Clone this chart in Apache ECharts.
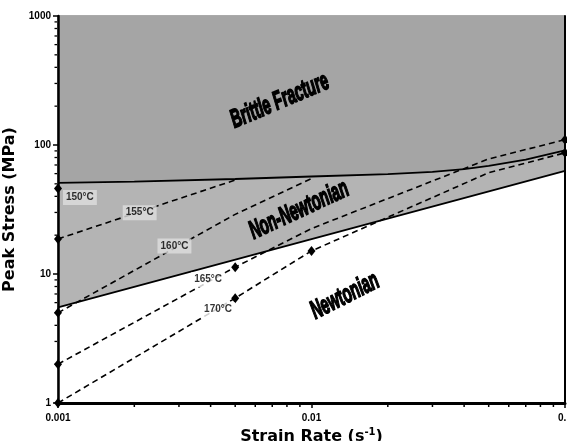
<!DOCTYPE html>
<html><head><meta charset="utf-8">
<script src="https://cdn.jsdelivr.net/npm/echarts@6/dist/echarts.min.js"></script>
<style>html,body{margin:0;padding:0;background:#fff}#c{width:567px;height:441px}</style>
</head><body><div id="c"></div>
<script>
// ---- data ----
const xTickLabels = ['0.001', '0.01', '0.1'];
const yTickLabels = ['1', '10', '100', '1000'];
const xMinorTicks = [0.002,0.003,0.004,0.005,0.006,0.007,0.008,0.009,0.02,0.03,0.04,0.05,0.06,0.07,0.08,0.09];
const yMinorTicks = [2,3,4,5,6,7,8,9,20,30,40,50,60,70,80,90,200,300,400,500,600,700,800,900];

// boundary between Brittle Fracture and Non-Newtonian
const brittleRate   = [0.001, 0.002, 0.005, 0.01, 0.02, 0.03, 0.04, 0.05, 0.07, 0.1];
const brittleStress = [50.8, 52, 54.5, 57, 59.5, 62, 65, 69, 77, 91];
// boundary between Non-Newtonian and Newtonian
const newtRate   = [0.001, 0.01, 0.1];
const newtStress = [5.5, 18.6, 63];

// temperature curves
const tempNames = ['150°C', '155°C', '160°C', '165°C', '170°C'];
const rate150 = [0.001];                 const stress150 = [46];    const mark150 = [1];
const rate155 = [0.001, 0.005];          const stress155 = [18.7, 53.5]; const mark155 = [1, 0];
const rate160 = [0.001, 0.005, 0.01];    const stress160 = [5.0, 29, 55]; const mark160 = [1, 0, 0];
const rate165 = [0.001, 0.005, 0.01, 0.05, 0.1]; const stress165 = [2.0, 11.3, 22.5, 78, 110]; const mark165 = [1, 1, 0, 0, 1];
const rate170 = [0.001, 0.005, 0.01, 0.05, 0.1]; const stress170 = [1.0, 6.5, 15.1, 61, 87];  const mark170 = [1, 1, 1, 0, 1];

// temperature label anchors (data space)
const tempLabelRate   = [0.00122, 0.0021, 0.00288, 0.00391, 0.00428];
const tempLabelStress = [39.1, 29.9, 16.5, 9.03, 5.29];

// region labels
const regionNames  = ['Brittle Fracture', 'Non-Newtonian', 'Newtonian'];
const regionRate   = [0.0075, 0.00893, 0.01355];
const regionStress = [219, 31.2, 6.73];
const regionAngle  = [23, 25, 27];

// ---- build ----
const pairs = (xs, ys) => xs.map((x, i) => [x, ys[i]]);
const tempSets = [
  [rate150, stress150, mark150], [rate155, stress155, mark155], [rate160, stress160, mark160],
  [rate165, stress165, mark165], [rate170, stress170, mark170]
];
const tempBg = ['#dedede', '#dedede', '#dedede', '#ffffff', '#ffffff'];

const series = [];
series.push({ type: 'line', data: pairs(brittleRate, brittleStress), symbol: 'none', z: 1, silent: true,
  lineStyle: { width: 0 }, areaStyle: { origin: 'start', color: '#b4b4b4', opacity: 1 } });
series.push({ type: 'line', data: pairs(brittleRate, brittleStress), symbol: 'none', z: 1, silent: true,
  lineStyle: { width: 0 }, areaStyle: { origin: 'end', color: '#a5a5a5', opacity: 1 } });
series.push({ type: 'line', data: pairs(newtRate, newtStress), symbol: 'none', z: 1, silent: true,
  lineStyle: { width: 0 }, areaStyle: { origin: 'start', color: '#ffffff', opacity: 1 } });
series.push({ type: 'line', data: pairs(brittleRate, brittleStress), symbol: 'none', z: 3,
  lineStyle: { color: '#000', width: 1.8 } });
series.push({ type: 'line', data: pairs(newtRate, newtStress), symbol: 'none', z: 3,
  lineStyle: { color: '#000', width: 1.8 } });

tempSets.forEach(([xs, ys, ms]) => {
  series.push({ type: 'line', z: 4, clip: false,
    data: xs.map((x, i) => ({ value: [x, ys[i]], symbol: ms[i] ? 'diamond' : 'none' })),
    symbolSize: [8, 10], showSymbol: true,
    itemStyle: { color: '#000' },
    lineStyle: { color: '#000', width: 1.6, type: [6, 4] } });
});

series.push({ type: 'scatter', z: 5, symbolSize: 1, itemStyle: { color: 'transparent' },
  data: tempLabelRate.map((x, i) => ({ value: [x, tempLabelStress[i]], name: tempNames[i],
    label: { backgroundColor: tempBg[i] } })),
  label: { show: true, position: 'inside', formatter: p => p.name, color: '#000',
    fontFamily: 'Liberation Sans', fontWeight: 'bold', fontSize: 10, padding: [3, 3, 2, 3] } });

series.push({ type: 'custom', z: 5, silent: true,
  data: regionRate.map((x, i) => [x, regionStress[i], i]),
  renderItem: (params, api) => {
    const p = api.coord([api.value(0), api.value(1)]);
    const i = api.value(2);
    return { type: 'text', x: p[0], y: p[1], rotation: regionAngle[i] * Math.PI / 180, scaleX: 0.56,
      style: { text: regionNames[i], fill: '#000', stroke: '#000', lineWidth: 1.6,
        font: 'italic bold 26px "Liberation Sans"', align: 'center', verticalAlign: 'middle' } };
  } });

// minor ticks
series.push({ type: 'custom', z: 6, silent: true, clip: false,
  data: xMinorTicks.map(v => [v, 1]),
  renderItem: (params, api) => {
    const p = api.coord([api.value(0), 1]);
    return { type: 'line', shape: { x1: p[0], y1: p[1] + 1, x2: p[0], y2: p[1] + 4 },
      style: { stroke: '#000', lineWidth: 1.5 } };
  } });
series.push({ type: 'custom', z: 6, silent: true, clip: false,
  data: yMinorTicks.map(v => [0.001, v]),
  renderItem: (params, api) => {
    const p = api.coord([0.001, api.value(1)]);
    return { type: 'line', shape: { x1: p[0] - 1, y1: p[1], x2: p[0] - 3.5, y2: p[1] },
      style: { stroke: '#000', lineWidth: 1.3 } };
  } });

const chart = echarts.init(document.getElementById('c'), null, { renderer: 'canvas' });
chart.setOption({
  animation: false,
  backgroundColor: '#fff',
  grid: { left: 58, right: 2, top: 16, bottom: 38, containLabel: false, outerBoundsMode: 'none',
    show: true, borderColor: '#555', borderWidth: 1, backgroundColor: 'transparent' },
  xAxis: {
    type: 'log', logBase: 10, min: 0.001, max: 0.1, z: 10,
    name: 'Strain Rate (s{sup|-1})', nameLocation: 'middle', nameGap: 23,
    nameTextStyle: { fontFamily: 'DejaVu Sans', fontWeight: 'bold', fontSize: 16, color: '#000',
      rich: { sup: { fontFamily: 'DejaVu Sans', fontWeight: 'bold', fontSize: 10, verticalAlign: 'top', padding: [0, 0, 8, 0] } } },
    axisLine: { lineStyle: { color: '#000', width: 3 } },
    axisTick: { show: true, length: 5, lineStyle: { color: '#000', width: 1.5 } },
    splitLine: { show: false },
    axisLabel: { formatter: (v, i) => xTickLabels[i], margin: 10, color: '#000',
      fontFamily: 'Liberation Sans', fontWeight: 'bold', fontSize: 10 }
  },
  yAxis: [{
    type: 'log', logBase: 10, min: 1, max: 1000, z: 10,
    name: 'Peak Stress (MPa)', nameLocation: 'middle', nameGap: 32, nameRotate: 90,
    nameTextStyle: { fontFamily: 'DejaVu Sans', fontWeight: 'bold', fontSize: 16, color: '#000' },
    axisLine: { lineStyle: { color: '#000', width: 2.5 } },
    axisTick: { show: true, length: 5, lineStyle: { color: '#000', width: 1.5 } },
    splitLine: { show: false },
    axisLabel: { formatter: (v, i) => yTickLabels[i], margin: 7, color: '#000',
      fontFamily: 'Liberation Sans', fontWeight: 'bold', fontSize: 10 }
  }, {
    type: 'log', logBase: 10, min: 1, max: 1000, position: 'right', z: 10,
    axisLine: { show: true, lineStyle: { color: '#000', width: 2 } },
    axisTick: { show: false }, axisLabel: { show: false }, splitLine: { show: false }
  }],
  series: series
});
</script></body></html>
